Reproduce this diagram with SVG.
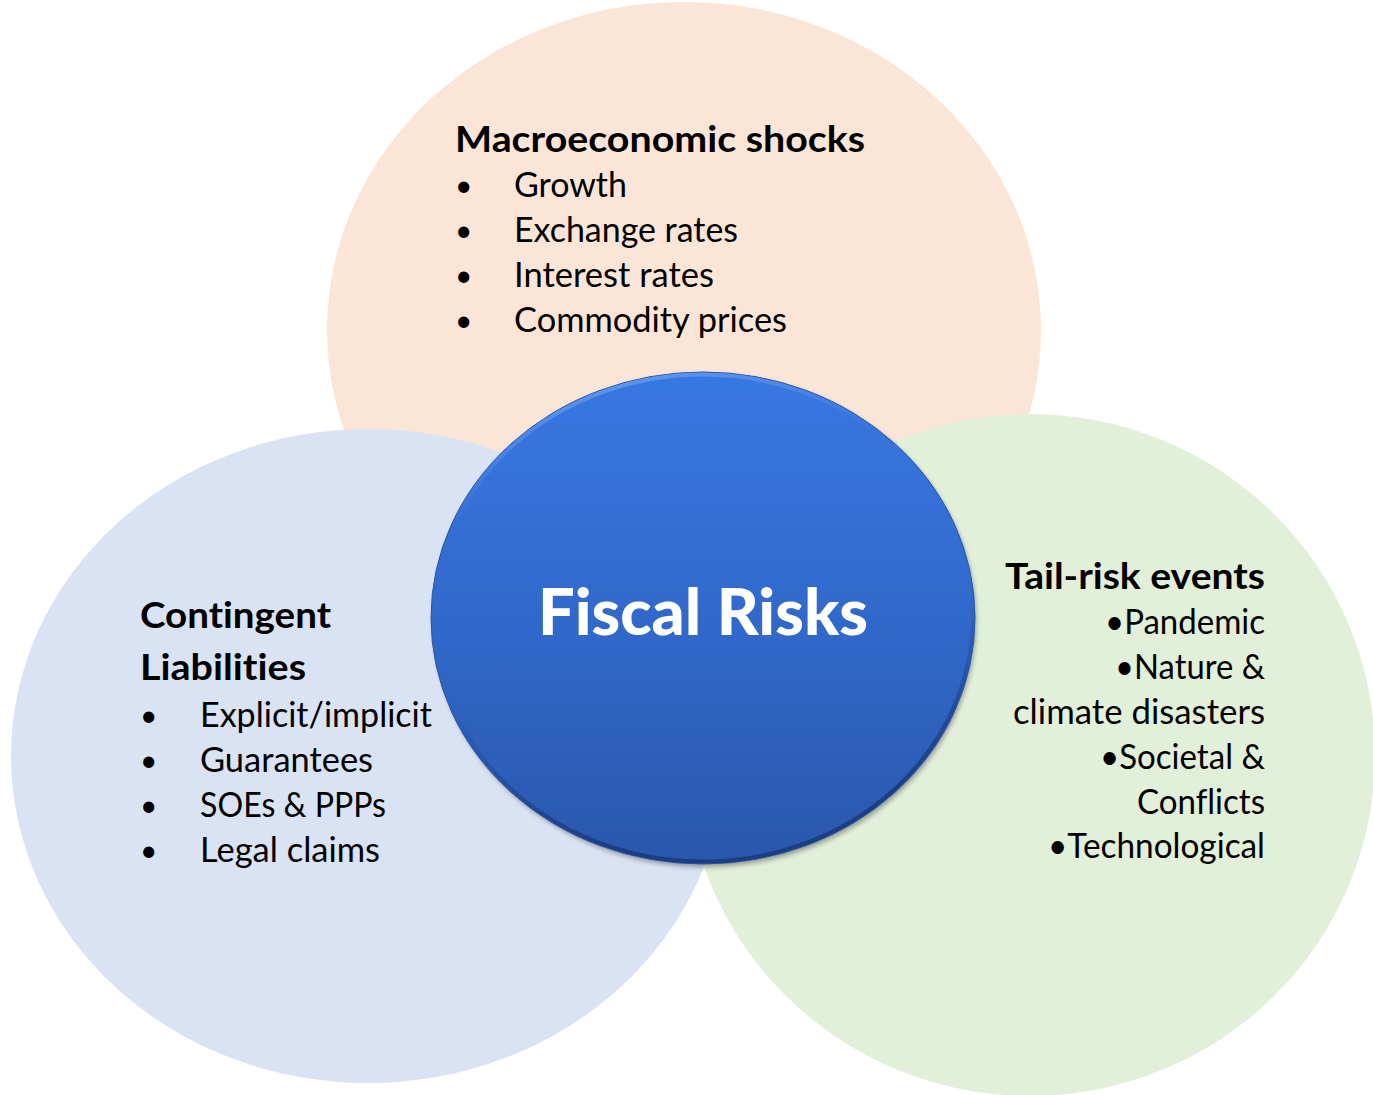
<svg xmlns="http://www.w3.org/2000/svg" width="1373" height="1095" viewBox="0 0 1373 1095">
  <defs>
    <style>
      text { font-variant-ligatures: none; }
      .title { font-family: Lato, "Open Sans", "Liberation Sans", sans-serif; font-weight: bold; font-size: 37px; fill: #000; }
      .item { font-family: Lato, "Open Sans", "Liberation Sans", sans-serif; font-size: 34px; fill: #000; }
      .dot { font-family: Lato, "Open Sans", "Liberation Sans", sans-serif; font-size: 30px; fill: #000; }
      .center-label { font-family: Lato, "Open Sans", "Liberation Sans", sans-serif; font-weight: 900; font-size: 64px; fill: #fff; }
    </style>
    <linearGradient id="coreFill" x1="0" y1="0" x2="0" y2="1">
      <stop offset="0" stop-color="#3878E2"/>
      <stop offset="0.5" stop-color="#3169CB"/>
      <stop offset="1" stop-color="#2A57AC"/>
    </linearGradient>
    <linearGradient id="coreRim" x1="0" y1="0" x2="0.25" y2="1">
      <stop offset="0" stop-color="#74A8F8" stop-opacity="1"/>
      <stop offset="0.3" stop-color="#5E95EE" stop-opacity="0"/>
      <stop offset="0.65" stop-color="#1D3F86" stop-opacity="0"/>
      <stop offset="1" stop-color="#1B3A7C" stop-opacity="0.9"/>
    </linearGradient>
    <filter id="coreShadow" x="-10%" y="-10%" width="120%" height="120%">
      <feGaussianBlur stdDeviation="2.5"/>
    </filter>
  </defs>

  <rect width="1373" height="1095" fill="#ffffff"/>

  <!-- three category circles -->
  <g id="node-macro">
    <ellipse cx="684" cy="330" rx="357" ry="328" fill="#FAE5D7"/>
  </g>
  <g id="node-contingent">
    <ellipse cx="368" cy="756" rx="357" ry="327" fill="#DAE3F3"/>
  </g>
  <g id="node-tail">
    <ellipse cx="1030" cy="755" rx="345" ry="341" fill="#E2EFD9"/>
  </g>

  <!-- labels on the category circles -->
  <g id="label-macro">
    <text class="title" x="455" y="152" textLength="410" lengthAdjust="spacingAndGlyphs">Macroeconomic shocks</text>
    <text class="dot" x="455" y="196">•</text>
    <text class="item" x="514" y="197" textLength="113" lengthAdjust="spacingAndGlyphs">Growth</text>
    <text class="dot" x="455" y="241">•</text>
    <text class="item" x="514" y="242" textLength="224" lengthAdjust="spacingAndGlyphs">Exchange rates</text>
    <text class="dot" x="455" y="286">•</text>
    <text class="item" x="514" y="287" textLength="200" lengthAdjust="spacingAndGlyphs">Interest rates</text>
    <text class="dot" x="455" y="331">•</text>
    <text class="item" x="514" y="332" textLength="273" lengthAdjust="spacingAndGlyphs">Commodity prices</text>
  </g>

  <g id="label-contingent">
    <text class="title" x="140" y="628" textLength="191" lengthAdjust="spacingAndGlyphs">Contingent</text>
    <text class="title" x="140" y="680" textLength="166" lengthAdjust="spacingAndGlyphs">Liabilities</text>
    <text class="dot" x="140" y="726">•</text>
    <text class="item" x="200" y="727" textLength="232" lengthAdjust="spacingAndGlyphs">Explicit/implicit</text>
    <text class="dot" x="140" y="771">•</text>
    <text class="item" x="200" y="772" textLength="173" lengthAdjust="spacingAndGlyphs">Guarantees</text>
    <text class="dot" x="140" y="816">•</text>
    <text class="item" x="200" y="817" textLength="186" lengthAdjust="spacingAndGlyphs">SOEs &amp; PPPs</text>
    <text class="dot" x="140" y="861">•</text>
    <text class="item" x="200" y="862" textLength="180" lengthAdjust="spacingAndGlyphs">Legal claims</text>
  </g>

  <g id="label-tail" text-anchor="end">
    <text class="title" x="1265" y="589" textLength="260" lengthAdjust="spacingAndGlyphs">Tail-risk events</text>
    <text class="item" x="1265" y="634" textLength="160" lengthAdjust="spacingAndGlyphs">•Pandemic</text>
    <text class="item" x="1265" y="679" textLength="150" lengthAdjust="spacingAndGlyphs">•Nature &amp;</text>
    <text class="item" x="1265" y="724" textLength="252" lengthAdjust="spacingAndGlyphs">climate disasters</text>
    <text class="item" x="1265" y="769" textLength="165" lengthAdjust="spacingAndGlyphs">•Societal &amp;</text>
    <text class="item" x="1265" y="814" textLength="128" lengthAdjust="spacingAndGlyphs">Conflicts</text>
    <text class="item" x="1265" y="858" textLength="217" lengthAdjust="spacingAndGlyphs">•Technological</text>
  </g>

  <!-- central bevelled disc -->
  <g id="node-fiscal">
    <ellipse cx="705" cy="621" rx="271" ry="246" fill="#000" opacity="0.35" filter="url(#coreShadow)"/>
    <ellipse cx="703" cy="618" rx="272" ry="246" fill="url(#coreFill)" stroke="#2B56A6" stroke-width="1"/>
    <ellipse cx="703" cy="618" rx="269.5" ry="243.5" fill="none" stroke="url(#coreRim)" stroke-width="4"/>
    <text class="center-label" x="703" y="635" text-anchor="middle" textLength="330" lengthAdjust="spacingAndGlyphs">Fiscal Risks</text>
  </g>
</svg>
